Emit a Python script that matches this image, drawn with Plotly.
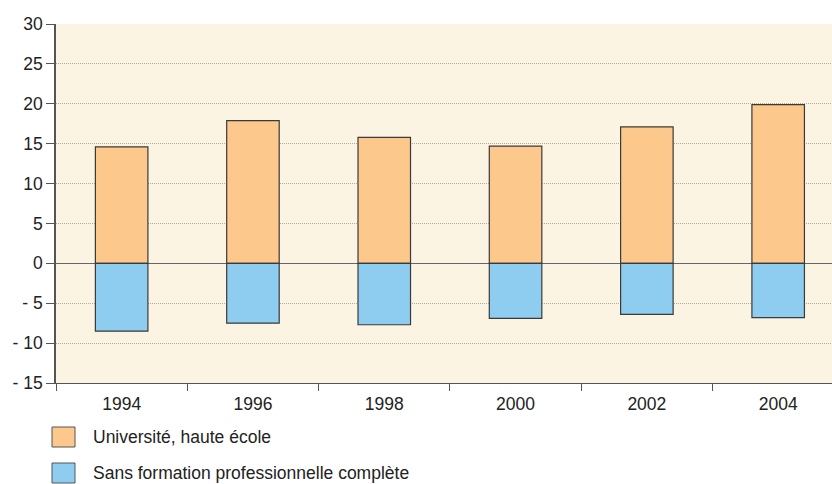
import plotly.graph_objects as go

# Data
years = ["1994", "1996", "1998", "2000", "2002", "2004"]
universite = [14.6, 17.9, 15.8, 14.7, 17.1, 19.9]
sans_formation = [-8.5, -7.5, -7.7, -6.9, -6.4, -6.8]
series_names = ["Université, haute école", "Sans formation professionnelle complète"]
y_ticks = [-15, -10, -5, 0, 5, 10, 15, 20, 25, 30]
y_tick_labels = ["- 15", "- 10", "- 5", "0", "5", "10", "15", "20", "25", "30"]

orange = "#FDC88B"
blue = "#8FCDF0"
outline = "#3a3a3a"
font = dict(family="Liberation Sans, Arial, sans-serif", size=17.5, color="#222")

fig = go.Figure()
fig.add_trace(go.Bar(x=years, y=universite, name=series_names[0],
                     marker=dict(color=orange, line=dict(color=outline, width=1.2)),
                     width=0.4))
fig.add_trace(go.Bar(x=years, y=sans_formation, name=series_names[1],
                     marker=dict(color=blue, line=dict(color=outline, width=1.2)),
                     width=0.4))

fig.update_layout(
    width=832, height=484,
    margin=dict(l=56, r=0, t=24, b=101),
    barmode="relative",
    showlegend=False,
    paper_bgcolor="white",
    plot_bgcolor="#FCF4E3",
    font=font,
)

fig.update_xaxes(
    type="category",
    range=[-0.5, 5.41],
    tickson="boundaries",
    ticks="outside", ticklen=7, tickcolor="#555", tickwidth=1,
    ticklabelstandoff=5,
    showline=True, linecolor="#555", linewidth=1,
    showgrid=False,
    tickfont=font,
)
fig.update_yaxes(
    range=[-15, 30],
    tickvals=y_ticks, ticktext=y_tick_labels,
    ticks="outside", ticklen=8, tickcolor="#555", tickwidth=1,
    showline=True, linecolor="#555", linewidth=1.5,
    showgrid=True, gridcolor="#b5ab98", griddash="1px,1px", gridwidth=1,
    zeroline=True, zerolinecolor="#666", zerolinewidth=1.2,
    tickfont=font,
)


def px(p):
    # pixel x -> paper x (plot area spans x 56..832)
    return (p - 56) / 776.0


def py(p):
    # pixel y -> paper y (plot area spans y 24..383)
    return (383 - p) / 359.0


# Legend drawn as swatches with labels below the plot
legend_rows = [(orange, series_names[0]), (blue, series_names[1])]
for i, (color, label) in enumerate(legend_rows):
    top_px = 427 + i * 36
    fig.add_shape(type="rect", xref="paper", yref="paper",
                  x0=px(52), x1=px(75), y0=py(top_px + 20), y1=py(top_px),
                  fillcolor=color, line=dict(color="#555", width=1))
    fig.add_annotation(xref="paper", yref="paper", x=px(91), y=py(top_px + 10),
                       text=label, showarrow=False, xanchor="left", yanchor="middle",
                       font=font)

fig.write_html("out.html")
